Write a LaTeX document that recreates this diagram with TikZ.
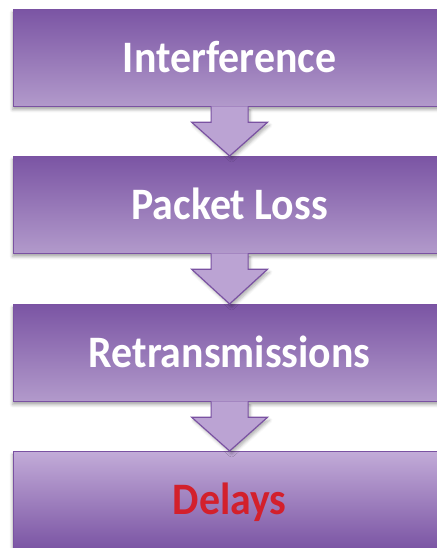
\documentclass[tikz,border=0pt]{standalone}
\usepackage{fontspec}
\setmainfont{Carlito}[FakeStretch=0.93]
\usetikzlibrary{calc,shadows.blur}

\definecolor{pdark}{HTML}{7B55A4}
\definecolor{plight}{HTML}{B29ACB}
\definecolor{ppale}{HTML}{C2ABD8}
\definecolor{pedge}{HTML}{7A52A2}
\definecolor{parrow}{HTML}{BBA3D3}
\definecolor{alertred}{HTML}{D3202C}

\begin{document}
\begin{tikzpicture}[x=1pt,y=-1pt,
  stage/.style={anchor=north west, minimum width=432pt, minimum height=97pt,
    inner sep=0pt, text height=29pt, text depth=0pt,
    draw=pedge, line width=1.2pt, text=white,
    font=\bfseries\fontsize{45}{50}\selectfont,
    blur shadow={shadow xshift=-1pt, shadow yshift=-3pt,
      shadow blur radius=3pt, shadow opacity=35}},
  fallshade/.style={top color=pdark, bottom color=plight},
  riseshade/.style={top color=ppale, bottom color=pdark},
  flow/.style={fill=parrow, draw=pedge, line width=1.2pt, line join=miter}]

\useasboundingbox (0,0) rectangle (436,548);

% the four stages, top to bottom
\node[stage, fallshade] (b1) at (13,9)   {Interference};
\node[stage, fallshade] (b2) at (13,156) {Packet Loss};
\node[stage, fallshade] (b3) at (13,304) {Retransmissions};
\node[stage, riseshade, text=alertred] (b4) at (13,451) {Delays};

% block arrow from the bottom of one stage to the top of the next
\newcommand\flowarrow[2]{%
  \path[flow, blur shadow={shadow xshift=2pt, shadow yshift=-3pt,
      shadow blur radius=3pt, shadow opacity=30}]
    ($(#1.south)+(-18.5,-0.8)$) -- ($(#1.south)+(-18.5,15)$)
    -- ($(#1.south)+(-38,15)$) -- (#2.north)
    -- ($(#1.south)+(38,15)$) -- ($(#1.south)+(18.5,15)$)
    -- ($(#1.south)+(18.5,-0.8)$);
}
\flowarrow{b1}{b2}
\flowarrow{b2}{b3}
\flowarrow{b3}{b4}
\end{tikzpicture}
\end{document}
